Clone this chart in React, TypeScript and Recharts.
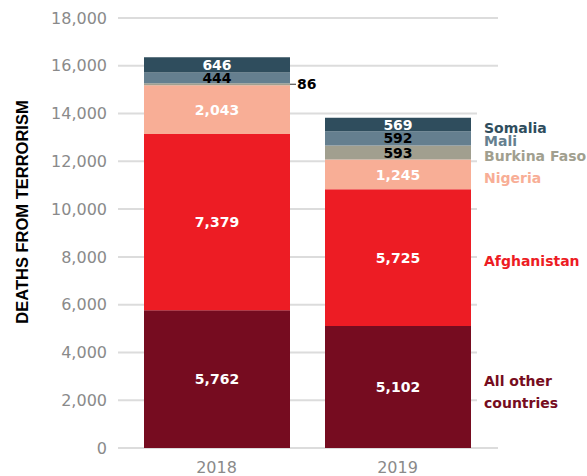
import React from 'react';
import { BarChart, Bar, XAxis, YAxis, CartesianGrid, LabelList } from 'recharts';

const years = ['2018', '2019'];
const allOtherCountries = [5762, 5102];
const afghanistan = [7379, 5725];
const nigeria = [2043, 1245];
const burkinaFaso = [86, 593];
const mali = [444, 592];
const somalia = [646, 569];
const yTicks = [0, 2000, 4000, 6000, 8000, 10000, 12000, 14000, 16000, 18000];

const series = [
  { key: 'other', name: 'All other countries', values: allOtherCountries, color: '#760c20', text: '#ffffff', nameColor: '#760c20' },
  { key: 'afg', name: 'Afghanistan', values: afghanistan, color: '#ed1c24', text: '#ffffff', nameColor: '#ed1c24' },
  { key: 'nga', name: 'Nigeria', values: nigeria, color: '#f8ae96', text: '#ffffff', nameColor: '#f8ae96' },
  { key: 'bfa', name: 'Burkina Faso', values: burkinaFaso, color: '#a19f8f', text: '#000000', nameColor: '#a19f8f' },
  { key: 'mli', name: 'Mali', values: mali, color: '#657f8f', text: '#000000', nameColor: '#657f8f' },
  { key: 'som', name: 'Somalia', values: somalia, color: '#2f4d5d', text: '#ffffff', nameColor: '#2f4d5d' },
];

const data = years.map((year, i) => {
  const row: any = { year };
  series.forEach((s) => {
    row[s.key] = s.values[i];
  });
  return row;
});

const FONT = '"DejaVu Sans", sans-serif';
const fmt = (v: number) => v.toLocaleString('en-US');

const makeValueLabel = (s: any) => (props: any) => {
  const { x, y, width, height, value } = props;
  const cy = y + height / 2;
  if (Math.abs(height) < 8) {
    const x0 = x + width;
    return (
      <g>
        <line x1={x0} y1={cy} x2={x0 + 6} y2={cy} stroke="#333" strokeWidth={1} />
        <text x={x0 + 7} y={cy} dy="0.36em" fontFamily={FONT} fontWeight="bold" fontSize={14} fill="#000">
          {fmt(value)}
        </text>
      </g>
    );
  }
  return (
    <text x={x + width / 2} y={cy} dy="0.36em" textAnchor="middle" fontFamily={FONT} fontWeight="bold" fontSize={14} fill={s.text}>
      {fmt(value)}
    </text>
  );
};

const makeNameLabel = (s: any) => (props: any) => {
  const { x, y, width, height, index } = props;
  if (index !== years.length - 1) return null;
  const tx = x + width + 13;
  const cy = y + height / 2 + 3;
  if (s.key === 'other') {
    return (
      <text x={tx} y={cy} fontFamily={FONT} fontWeight="bold" fontSize={14} fill={s.nameColor}>
        <tspan x={tx} dy="-0.3em">All other</tspan>
        <tspan x={tx} dy="1.6em">countries</tspan>
      </text>
    );
  }
  return (
    <text x={tx} y={cy} dy="0.36em" fontFamily={FONT} fontWeight="bold" fontSize={14} fill={s.nameColor}>
      {s.name}
    </text>
  );
};

const gridLine = (props: any) => {
  const { x1, y1, x2, y2 } = props;
  const full = y1 < 75 || y1 > 440;
  return <line key={`g-${y1}`} x1={x1} y1={y1} x2={full ? x2 : 477} y2={y2} stroke="#dcdcdc" strokeWidth={2} />;
};

const YLabel = (props: any) => {
  const vb = props.viewBox || {};
  const cx = vb.x + 22;
  const cy = 212;
  return (
    <text x={cx} y={cy} transform={`rotate(-90, ${cx}, ${cy})`} textAnchor="middle" dy="0.36em" fontFamily='"Liberation Sans", Arial, sans-serif' fontWeight="bold" fontSize={16.5} fill="#000">
      DEATHS FROM TERRORISM
    </text>
  );
};

export default function App() {
  return (
    <div style={{ position: 'absolute', left: 0, top: 0, background: '#fff' }}>
      <BarChart width={587} height={476} data={data} margin={{ top: 18, right: 89, bottom: 0, left: 0 }}>
        <CartesianGrid vertical={false} horizontal={gridLine} />
        <XAxis
          dataKey="year"
          axisLine={false}
          tickLine={false}
          height={28}
          tickMargin={8}
          padding={{ left: 8, right: 10 }}
          tick={{ fill: '#8a8a8a', fontSize: 16, fontFamily: FONT }}
        />
        <YAxis
          width={118}
          domain={[0, 18000]}
          ticks={yTicks}
          axisLine={false}
          tickLine={false}
          tickMargin={5}
          tickFormatter={fmt}
          tick={{ fill: '#8a8a8a', fontSize: 16, fontFamily: FONT }}
          label={<YLabel />}
        />
        {series.map((s) => (
          <Bar key={s.key} dataKey={s.key} name={s.name} stackId="a" fill={s.color} barSize={146} isAnimationActive={false}>
            <LabelList dataKey={s.key} content={makeValueLabel(s)} />
            <LabelList dataKey={s.key} content={makeNameLabel(s)} />
          </Bar>
        ))}
      </BarChart>
    </div>
  );
}
